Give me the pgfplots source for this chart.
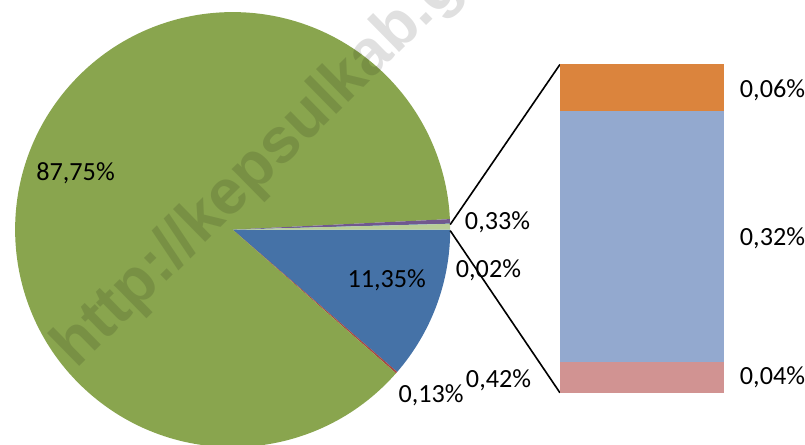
\documentclass[border=0pt]{standalone}
\usepackage{fontspec}
\setmainfont{Carlito}
\newfontfamily\wmfont{Liberation Sans}
\usepackage{pgfplots}
\pgfplotsset{compat=1.18}
\definecolor{cBlue}{HTML}{4572A7}
\definecolor{cRed}{HTML}{AA4643}
\definecolor{cGreen}{HTML}{89A54E}
\definecolor{cPurple}{HTML}{71588F}
\definecolor{cAqua}{HTML}{4198AF}
\definecolor{cOrange}{HTML}{DB843D}
\definecolor{cLBlue}{HTML}{93A9CF}
\definecolor{cPink}{HTML}{D19392}
\definecolor{cLGreen}{HTML}{B9CD96}
% #1 cumulative share before the slice (%), #2 share (%), #3 colour
\newcommand{\slice}[3]{%
  \fill[#3] (axis cs:231,213) -- ++({-3.6*(#1)}:216pt)
    arc[start angle={-3.6*(#1)}, delta angle={-3.6*(#2)}, radius=216pt] -- cycle;}
\begin{document}
\begin{tikzpicture}
\begin{axis}[
  name=pie, at={(0pt,0pt)}, anchor=south west,
  x=1pt, y=1pt, xmin=0, xmax=805, ymin=0, ymax=441,
  scale only axis, hide axis, clip=true,
]
% pie slices: 11.35, 0.13, 87.75, 0.33, 0.02, other 0.42
\slice{0}{11.35}{cBlue}
\slice{11.35}{0.13}{cRed}
\slice{11.48}{87.75}{cGreen}
\slice{99.23}{0.33}{cPurple}
\slice{99.56}{0.02}{cAqua}
\slice{99.58}{0.42}{cLGreen}
% connector lines
\addplot[black, line width=1.6pt] coordinates {(447,218) (556,377)};
\addplot[black, line width=1.6pt] coordinates {(447,212) (556,51)};
% watermark
\node[anchor=base west, rotate=44.5, text=black, opacity=0.12, inner sep=0pt,
      font=\wmfont\bfseries\fontsize{63}{70}\selectfont]
  at (axis cs:76,74) {http://kepsulkab.go.id};
% labels
\begin{scope}[every node/.style={font=\fontsize{26}{30}\selectfont, inner sep=0pt}]
\node at (axis cs:75,269) {87,75\%};
\node at (axis cs:384,163) {11,35\%};
\node at (axis cs:494,220) {0,33\%};
\node at (axis cs:485,173) {0,02\%};
\node at (axis cs:428,49) {0,13\%};
\node at (axis cs:495,63) {0,42\%};
\node at (axis cs:767,351) {0,06\%};
\node at (axis cs:767,204) {0,32\%};
\node at (axis cs:767,66) {0,04\%};
\end{scope}
\end{axis}
\begin{axis}[
  at={(556pt,51pt)}, anchor=south west,
  width=163pt, height=326pt, scale only axis, hide axis,
  ybar stacked, bar width=163pt,
  xmin=-0.5, xmax=0.5, ymin=0, ymax=0.42,
  enlargelimits=false,
]
\addplot[fill=cPink, draw=none] coordinates {(0,0.04)};
\addplot[fill=cLBlue, draw=none] coordinates {(0,0.32)};
\addplot[fill=cOrange, draw=none] coordinates {(0,0.06)};
\end{axis}
\end{tikzpicture}
\end{document}
